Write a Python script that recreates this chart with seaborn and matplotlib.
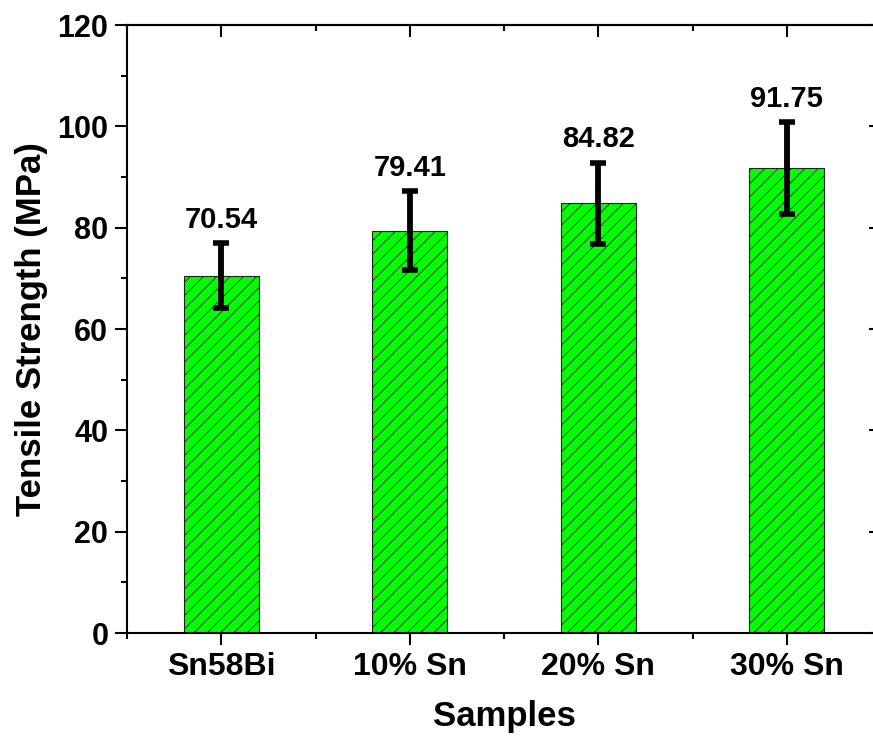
import numpy as np
import pandas as pd
import seaborn as sns
import matplotlib
matplotlib.use('Agg')
from matplotlib import pyplot as plt
from matplotlib.ticker import FixedLocator, AutoMinorLocator

# data
samples = ['Sn58Bi', '10% Sn', '20% Sn', '30% Sn']
strength = [70.54, 79.41, 84.82, 91.75]
errors = [6.4, 7.8, 8.0, 9.1]

# render at 80 dpi so that the '//' hatch comes out as dense as the original;
# k rescales point sizes to keep the same pixel sizes as at 100 dpi
DPI = 80
k = 100 / DPI

sns.set_style('ticks')
plt.rcParams['font.family'] = ['Liberation Sans', 'DejaVu Sans']
plt.rcParams['font.weight'] = 'bold'
plt.rcParams['hatch.linewidth'] = 0.6 * k
plt.rcParams['hatch.color'] = 'black'
for key in ['text.color', 'axes.labelcolor', 'xtick.color', 'ytick.color',
            'axes.edgecolor']:
    plt.rcParams[key] = 'black'

df = pd.DataFrame({'Samples': samples, 'Tensile Strength (MPa)': strength})

fig = plt.figure(figsize=(873 / DPI, 745 / DPI), dpi=DPI)
ax = fig.add_axes([0.1455, 0.1503, 0.8637, 0.8161])

sns.barplot(data=df, x='Samples', y='Tensile Strength (MPa)', ax=ax,
            color='#00ff00', saturation=1, width=0.4,
            edgecolor='#222222', linewidth=0.8 * k, hatch='//')

xpos = np.arange(len(samples))
ax.errorbar(xpos, strength, yerr=errors, fmt='none', ecolor='black',
            elinewidth=4.2 * k, capsize=6 * k, capthick=4 * k, zorder=5)

for i, (v, e) in enumerate(zip(strength, errors)):
    ax.annotate(f'{v:.2f}', xy=(i, v + e), xytext=(0, 11 * k),
                textcoords='offset points', ha='center', va='baseline',
                fontsize=21 * k, fontweight='bold')

ax.set_xlim(-0.5, 3.5)
ax.set_ylim(0, 120)
ax.set_yticks(np.arange(0, 121, 20))
ax.yaxis.set_minor_locator(AutoMinorLocator(2))
ax.xaxis.set_minor_locator(FixedLocator(np.arange(-0.5, 4, 1)))

ax.set_xlabel('Samples', fontsize=25 * k, fontweight='bold', labelpad=13 * k)
ax.set_ylabel('Tensile Strength (MPa)', fontsize=25 * k, fontweight='bold',
              labelpad=7 * k)

for side in ['left', 'bottom', 'top', 'right']:
    ax.spines[side].set_visible(True)
    ax.spines[side].set_linewidth(1.5 * k)

ax.tick_params(which='major', direction='out', length=8.5 * k, width=1.5 * k,
               labelsize=22 * k, pad=5 * k)
ax.tick_params(which='minor', direction='out', length=4.3 * k, width=1.5 * k)
ax.tick_params(axis='x', labelsize=23 * k)

# mirrored inward ticks on top and right
top = ax.secondary_xaxis('top')
top.set_xticks(xpos)
top.xaxis.set_minor_locator(FixedLocator(np.arange(-0.5, 4, 1)))
top.tick_params(which='major', direction='in', length=8.5 * k, width=1.5 * k,
                labeltop=False)
top.tick_params(which='minor', direction='in', length=4.3 * k, width=1.5 * k)
top.spines['top'].set_linewidth(1.5 * k)

right = ax.secondary_yaxis('right')
right.set_yticks(np.arange(0, 121, 20))
right.yaxis.set_minor_locator(AutoMinorLocator(2))
right.tick_params(which='major', direction='in', length=8.5 * k,
                  width=1.5 * k, labelright=False)
right.tick_params(which='minor', direction='in', length=4.3 * k, width=1.5 * k)
right.spines['right'].set_linewidth(1.5 * k)

for lab in ax.get_xticklabels() + ax.get_yticklabels():
    lab.set_fontweight('bold')

fig.savefig('out.png', dpi=DPI)
